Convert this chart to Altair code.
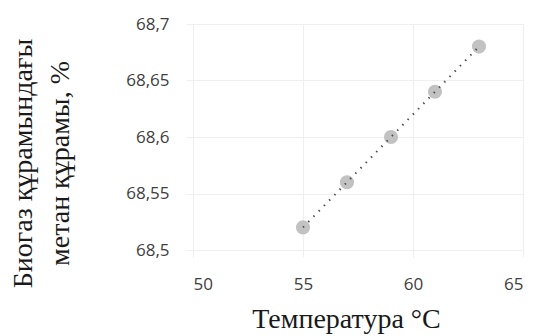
import altair as alt
import pandas as pd

# Methane content of biogas vs. temperature
temperature = [55, 57, 59, 61, 63]
methane = [68.52, 68.56, 68.60, 68.64, 68.68]

x_ticks = [50, 55, 60, 65]
y_ticks = [68.5, 68.55, 68.6, 68.65, 68.7]

df = pd.DataFrame({"t": temperature, "m": methane})

serif = "Liberation Serif"
sans = "Open Sans"

x_enc = alt.X(
    "t:Q",
    scale=alt.Scale(domain=[50, 65], nice=False, zero=False),
    axis=alt.Axis(
        values=x_ticks,
        title="Температура °C",
        titleFont=serif,
        titleFontSize=28,
        titleFontWeight="normal",
        titleColor="#1a1a1a",
        titlePadding=13,
        titleX=153,
        labelFont=sans,
        labelFontSize=17,
        labelColor="#404040",
        labelPadding=19,
        grid=True,
        gridColor="#efefef",
        domain=False,
        ticks=True,
        tickColor="#efefef",
        tickSize=7,
    ),
)

y_enc = alt.Y(
    "m:Q",
    scale=alt.Scale(domain=[68.5, 68.7], nice=False, zero=False),
    axis=alt.Axis(
        values=y_ticks,
        labelExpr="replace(format(datum.value, '.2~f'), '.', ',')",
        title=["Биогаз құрамындағы", "метан құрамы, %"],
        titleFont=serif,
        titleFontSize=28,
        titleFontWeight="normal",
        titleColor="#1a1a1a",
        titleLineHeight=37,
        titleAngle=270,
        titleAlign="center",
        titleBaseline="middle",
        titleX=-170,
        titleY=139,
        labelFont=sans,
        labelFontSize=17,
        labelColor="#404040",
        labelPadding=17,
        grid=True,
        gridColor="#efefef",
        domain=False,
        ticks=True,
        tickColor="#efefef",
        tickSize=7,
    ),
)

points = alt.Chart(df).mark_circle(size=200, color="#c2c2c2", opacity=1).encode(x=x_enc, y=y_enc)

trend = (
    alt.Chart(df)
    .transform_regression("t", "m")
    .mark_line(color="#4d4d4d", strokeWidth=2, strokeDash=[1.5, 6])
    .encode(x="t:Q", y="m:Q")
)

chart = (
    alt.layer(points, trend)
    .properties(
        width=330,
        height=226,
        padding={"left": 193, "top": 24, "right": 14, "bottom": 86},
        autosize=alt.AutoSizeParams(type="none"),
    )
    .configure_view(stroke=None)
    .configure(background="white")
)

chart.save("out.html", embed_options={"renderer": "svg", "actions": False})
